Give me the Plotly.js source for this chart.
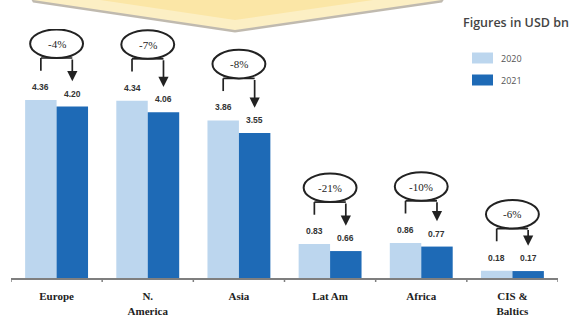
<!DOCTYPE html>
<html>
<head>
<meta charset="utf-8">
<script src="https://cdn.plot.ly/plotly-3.0.1.min.js"></script>
<style>html,body{margin:0;padding:0;background:#fff;}#chart{width:585px;height:329px;}</style>
</head>
<body>
<div id="chart"></div>
<script>
// ---- data ----
const categories = ["Europe", "N.<br>America", "Asia", "Lat Am", "Africa", "CIS &amp;<br>Baltics"];
const values2020 = [4.36, 4.34, 3.86, 0.83, 0.86, 0.18];
const values2021 = [4.20, 4.06, 3.55, 0.66, 0.77, 0.17];
const changeLabels = ["-4%", "-7%", "-8%", "-21%", "-10%", "-6%"];
const seriesNames = ["2020", "2021"];
const unitNote = "Figures in USD bn";

// ---- layout constants ----
const W = 585, H = 329;
const M = {l: 11, r: 27, t: 29, b: 51};
const yMax = 6.1;
const c2020 = "#bcd6ee", c2021 = "#1e6ab6";
const ink = "#222";
const idx = categories.map((_, i) => i);
const off = 0.1725;
const plotW = W - M.l - M.r, plotH = H - M.t - M.b;
const pxX = p => (p - M.l) / plotW;
const pxY = p => (H - M.b - p) / plotH;

const traces = [
  {type: "bar", name: seriesNames[0], x: idx, y: values2020, marker: {color: c2020}, showlegend: false, hoverinfo: "none"},
  {type: "bar", name: seriesNames[1], x: idx, y: values2021, marker: {color: c2021}, showlegend: false, hoverinfo: "none"}
];

const shapes = [];
const annotations = [];

// top banner (decoration)
const bannerPath = (dy) => {
  const pts = [[25, -12], [33, 0 + dy], [235, 30 + dy], [442, 0 + dy], [452, -12]];
  return "M" + pts.map(p => pxX(p[0]).toFixed(4) + "," + pxY(p[1]).toFixed(4)).join(" L");
};
shapes.push({type: "path", xref: "paper", yref: "paper", path: bannerPath(2.5), fillcolor: "rgba(140,130,110,0.55)", line: {width: 0}, layer: "above"});
shapes.push({type: "path", xref: "paper", yref: "paper", path: bannerPath(0), fillcolor: "#fcefc4", line: {width: 0}, layer: "above"});
shapes.push({type: "path", xref: "paper", yref: "paper", path: bannerPath(-10), fillcolor: "#fbe6a6", line: {width: 0}, layer: "above"});

// value labels, brackets, ovals
const ovalHW = 0.29, ovalHH = 0.35;
idx.forEach(i => {
  const xl = i - off, xr = i + off;
  const a = values2020[i], b = values2021[i];
  annotations.push({x: xl, y: a, xref: "x", yref: "y", text: a.toFixed(2), showarrow: false, yanchor: "bottom", yshift: 6,
    font: {family: "Liberation Sans, Arial, sans-serif", size: 8.5, color: "#333", weight: 600}});
  annotations.push({x: xr, y: b, xref: "x", yref: "y", text: b.toFixed(2), showarrow: false, yanchor: "bottom", yshift: 6,
    font: {family: "Liberation Sans, Arial, sans-serif", size: 8.5, color: "#333", weight: 600}});
  const cy = a + 1.38;
  const hy = cy - ovalHH;
  shapes.push({type: "line", xref: "x", yref: "y", x0: xl, x1: xr, y0: hy, y1: hy, line: {color: ink, width: 1.7}});
  shapes.push({type: "line", xref: "x", yref: "y", x0: xl, x1: xl, y0: hy, y1: a + 0.72, line: {color: ink, width: 1.7}});
  annotations.push({x: xr, y: b + 0.62, ax: xr, ay: hy, xref: "x", yref: "y", axref: "x", ayref: "y", text: "",
    showarrow: true, arrowhead: 2, arrowsize: 1.2, arrowwidth: 1.7, arrowcolor: ink, standoff: 0});
  shapes.push({type: "circle", xref: "x", yref: "y", x0: i - ovalHW, x1: i + ovalHW, y0: cy - ovalHH, y1: cy + ovalHH,
    fillcolor: "#ffffff", line: {color: ink, width: 2}});
  annotations.push({x: i, y: cy, xref: "x", yref: "y", text: changeLabels[i], showarrow: false,
    font: {family: "Liberation Serif, Times New Roman, serif", size: 11, color: ink}});
});

// unit note + manual legend
annotations.push({xref: "paper", yref: "paper", x: pxX(461), y: pxY(22), xanchor: "left", yanchor: "middle", text: unitNote,
  showarrow: false, font: {family: "Open Sans, sans-serif", size: 12.5, color: "#444", weight: 600}});
const legendRows = [{c: c2020, y: 58}, {c: c2021, y: 80}];
legendRows.forEach((r, k) => {
  shapes.push({type: "rect", xref: "paper", yref: "paper", x0: pxX(472), x1: pxX(493), y0: pxY(r.y - 5.5), y1: pxY(r.y + 5.5),
    fillcolor: r.c, line: {width: 0}});
  annotations.push({xref: "paper", yref: "paper", x: pxX(499), y: pxY(r.y), xanchor: "left", yanchor: "middle", text: seriesNames[k],
    showarrow: false, font: {family: "Open Sans, sans-serif", size: 9, color: "#555"}});
});

const layout = {
  width: W, height: H,
  margin: M,
  paper_bgcolor: "#ffffff", plot_bgcolor: "#ffffff",
  barmode: "group", bargap: 0.31, bargroupgap: 0,
  showlegend: false,
  xaxis: {
    type: "linear", range: [-0.5, categories.length - 0.5],
    tickmode: "array", tickvals: idx, ticktext: categories,
    showgrid: false, zeroline: false,
    showline: true, linecolor: "#7f7f7f", linewidth: 2,
    ticks: "", fixedrange: true, ticklabelstandoff: 7,
    tickfont: {family: "Liberation Serif, Times New Roman, serif", size: 11, color: ink, weight: "bold"}
  },
  yaxis: {range: [0, yMax], visible: false, fixedrange: true},
  shapes: shapes,
  annotations: annotations
};

// boundary ticks on the category axis
for (let i = 0; i <= categories.length; i++) {
  shapes.push({type: "line", xref: "x", yref: "paper", x0: i - 0.5, x1: i - 0.5, y0: 0, y1: -4 / plotH, line: {color: "#7f7f7f", width: 1.5}});
}

Plotly.newPlot("chart", traces, layout, {staticPlot: true});
</script>
</body>
</html>
